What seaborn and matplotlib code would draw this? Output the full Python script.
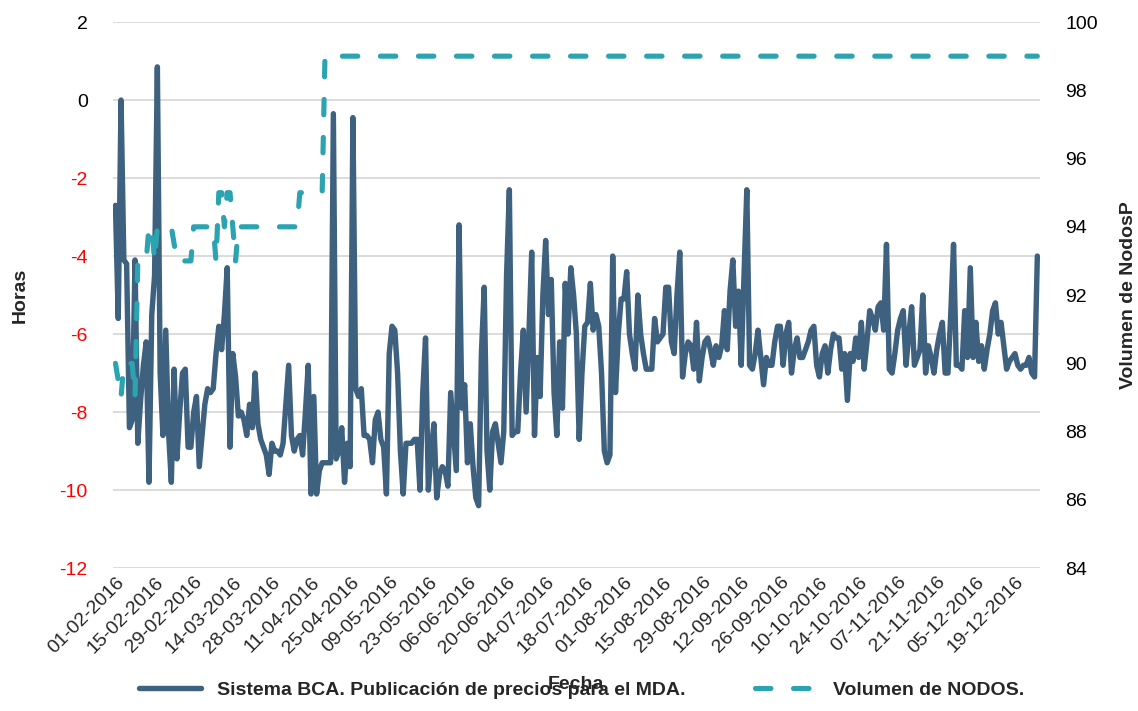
import numpy as np
import pandas as pd
import matplotlib
matplotlib.use("Agg")
import matplotlib.pyplot as plt
import matplotlib.dates as mdates
import seaborn as sns

# daily series starting 01-02-2016
start_date = "2016-02-01"

horas = [
    -2.7, -5.6, 0.0, -4.1, -4.2, -8.4, -8.2, -4.1, -8.8, -7.7,
    -6.8, -6.2, -9.8, -5.5, -4.5, 0.85, -7.0, -8.6, -5.9, -8.5,
    -9.8, -6.9, -9.2, -8.0, -7.0, -6.9, -8.9, -8.9, -8.0, -7.6,
    -9.4, -8.6, -7.8, -7.4, -7.5, -7.4, -6.5, -5.8, -6.4, -5.5,
    -4.3, -8.9, -6.5, -7.1, -8.1, -8.0, -8.2, -8.6, -7.8, -8.4,
    -7.0, -8.3, -8.7, -8.9, -9.1, -9.6, -8.8, -9.0, -9.0, -9.1,
    -8.8, -7.8, -6.8, -8.6, -9.0, -8.7, -8.6, -9.1, -8.0, -6.8,
    -10.1, -7.6, -10.1, -9.5, -9.3, -9.3, -9.3, -9.3, -0.35, -9.2,
    -9.0, -8.4, -9.8, -8.8, -9.4, -0.45, -7.4, -7.6, -7.4, -8.6,
    -8.6, -8.7, -9.3, -8.2, -8.0, -8.7, -8.9, -10.1, -6.5, -5.8,
    -5.9, -7.0, -9.0, -10.1, -8.8, -8.8, -8.8, -8.7, -8.7, -10.0,
    -7.5, -6.1, -10.0, -9.0, -8.3, -10.2, -9.6, -9.4, -9.5, -9.9,
    -7.5, -8.5, -9.5, -3.2, -7.9, -7.3, -9.3, -8.3, -9.4, -10.2,
    -10.4, -6.5, -4.8, -9.0, -10.0, -8.5, -8.3, -8.8, -9.3, -8.5,
    -4.5, -2.3, -8.6, -8.5, -8.5, -7.0, -5.9, -8.0, -6.0, -3.9,
    -8.6, -6.6, -7.6, -5.0, -3.6, -5.5, -4.6, -7.5, -8.6, -6.2,
    -7.9, -4.7, -6.0, -4.3, -5.0, -6.0, -8.7, -7.0, -5.8, -5.7,
    -4.7, -5.9, -5.5, -5.8, -7.0, -9.0, -9.3, -9.1, -4.0, -7.5,
    -6.0, -5.1, -5.1, -4.4, -6.0, -6.5, -6.9, -5.0, -6.0, -6.5,
    -6.9, -6.9, -6.9, -5.6, -6.2, -6.1, -6.0, -4.8, -4.8, -6.2,
    -6.5, -5.0, -3.9, -7.1, -6.5, -6.2, -6.3, -6.9, -5.7, -7.2,
    -6.6, -6.2, -6.1, -6.4, -6.8, -6.3, -6.6, -6.3, -5.4, -6.4,
    -4.9, -4.1, -5.8, -4.9, -6.8, -4.5, -2.3, -6.8, -6.9, -6.5,
    -5.9, -6.6, -7.3, -6.6, -6.8, -6.8, -6.2, -5.8, -5.8, -6.8,
    -6.0, -5.7, -7.0, -6.4, -6.1, -6.6, -6.6, -6.4, -6.2, -5.9,
    -5.8, -6.8, -7.1, -6.5, -6.3, -7.0, -6.4, -6.0, -6.1, -6.1,
    -6.9, -6.5, -7.7, -6.5, -6.7, -6.1, -6.6, -5.7, -6.9, -6.2,
    -5.4, -5.6, -5.9, -5.3, -5.2, -5.9, -3.7, -6.9, -7.0, -6.5,
    -5.9, -5.6, -5.4, -6.8, -6.0, -5.3, -6.8, -6.6, -6.4, -5.0,
    -7.0, -6.3, -6.6, -7.0, -6.4, -6.0, -5.7, -7.0, -7.0, -5.5,
    -3.7, -6.8, -6.8, -6.9, -5.4, -6.6, -4.3, -6.6, -5.7, -6.7,
    -6.3, -6.9, -6.4, -6.0, -5.4, -5.2, -6.0, -5.7, -6.3, -6.9,
    -6.7, -6.6, -6.5, -6.8, -6.9, -6.8, -6.8, -6.6, -7.0, -7.1,
    -4.0,
]

nodos_inicio = [
    90, 89.5, 89, 90, 90, 90, 90, 89, 93, 93,
    93, 93, 94, 94, 93, 94, 94, 94, 94, 94,
    94, 93.5, 93, 93, 93, 93, 93, 93, 94, 94,
    94, 94, 94, 94, 94, 94, 93, 95, 95, 94,
    95, 95, 94, 93, 94, 94, 94, 94, 94, 94,
    94, 94, 94, 94, 94, 94, 94, 94, 94, 94,
    94, 94, 94, 94, 94, 94, 95, 95, 95, 95,
    95, 95, 95, 95, 95,
]
nodos = nodos_inicio + [99] * (len(horas) - len(nodos_inicio))

fechas = pd.date_range(start_date, periods=len(horas), freq="D")
df = pd.DataFrame({"Fecha": fechas, "Horas": horas, "Nodos": nodos})

tick_fechas = pd.date_range(start_date, "2016-12-19", freq="14D")
left_ticks = list(range(-12, 3, 2))
right_ticks = list(range(84, 101, 2))

c_bca = "#3E6180"
c_nodos = "#2BA3B0"

sns.set_theme(style="white")
plt.rcParams["font.family"] = ["Liberation Sans", "DejaVu Sans"]
plt.rcParams["axes.unicode_minus"] = False

fig, ax = plt.subplots(figsize=(11.38, 7.11), dpi=100)
fig.subplots_adjust(left=0.099, right=0.914, top=0.969, bottom=0.201)
ax2 = ax.twinx()

sns.lineplot(data=df, x="Fecha", y="Horas", ax=ax, color=c_bca, lw=3.9,
             solid_joinstyle="round", solid_capstyle="round",
             label="Sistema BCA. Publicación de precios para el MDA.", legend=False)
sns.lineplot(data=df, x="Fecha", y="Nodos", ax=ax2, color=c_nodos, lw=3.7,
             ls=(0, (3, 4.4)), dash_capstyle="round",
             label="Volumen de NODOS.", legend=False)

ax.set_ylim(-12, 2)
ax.set_yticks(left_ticks)
ax2.set_ylim(84, 100)
ax2.set_yticks(right_ticks)
ax.set_xlim(fechas[0] - pd.Timedelta(days=1), fechas[-1] + pd.Timedelta(days=1))
ax.set_xticks(tick_fechas)
ax.xaxis.set_major_formatter(mdates.DateFormatter("%d-%m-%Y"))

ax.grid(axis="y", color="#D9D9D9", lw=1.3)
ax.set_axisbelow(True)
ax2.grid(False)
for a in (ax, ax2):
    for s in a.spines.values():
        s.set_visible(False)

ax.tick_params(axis="y", length=0, pad=18, labelsize=14)
ax2.tick_params(axis="y", length=0, pad=18, labelsize=14, labelcolor="black")
ax.tick_params(axis="x", length=0, pad=4, labelsize=14)
for lab in ax.get_xticklabels():
    lab.set_rotation(45)
    lab.set_ha("right")
    lab.set_va("top")
    lab.set_rotation_mode("anchor")
for lab, v in zip(ax.get_yticklabels(), left_ticks):
    lab.set_color("red" if v < 0 else "black")

ax.set_ylabel("Horas", fontsize=14, fontweight="bold")
ax.yaxis.set_label_coords(-0.09, 0.5)
ax2.set_ylabel("Volumen de NodosP", fontsize=14, fontweight="bold")
ax2.yaxis.set_label_coords(1.086, 0.5)
ax.set_xlabel("Fecha", fontsize=14, fontweight="bold")
ax.xaxis.set_label_coords(0.5, -0.198)

h1, l1 = ax.get_legend_handles_labels()
h2, l2 = ax2.get_legend_handles_labels()
fig.legend(h1 + h2, l1 + l2, loc="center", bbox_to_anchor=(0.511, 1 - 690 / 711),
           ncol=2, frameon=False, handlelength=3.2, columnspacing=3.6,
           prop={"size": 14, "weight": "bold"})

fig.savefig("out.png", dpi=100)
